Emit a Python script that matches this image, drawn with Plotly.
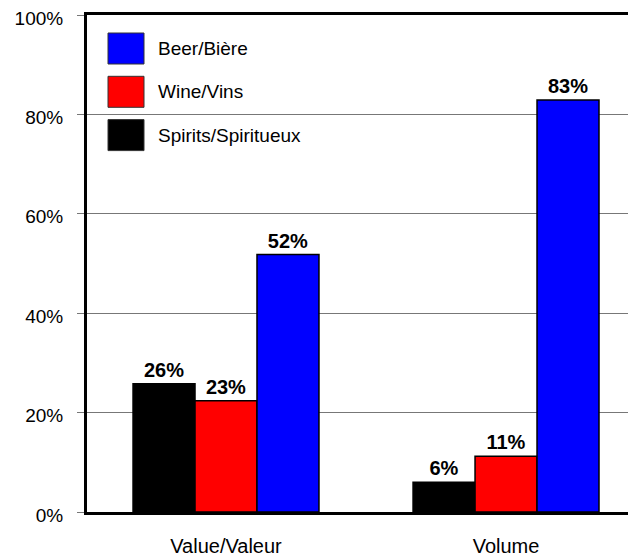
import plotly.graph_objects as go

categories = ["Value/Valeur", "Volume"]
series_names = ["Spirits/Spiritueux", "Wine/Vins", "Beer/Bière"]
series_colors = ["#000000", "#ff0000", "#0000ff"]
spirits = [25.8, 6.0]
wine = [22.4, 11.2]
beer = [51.8, 82.9]
spirits_labels = ["26%", "6%"]
wine_labels = ["23%", "11%"]
beer_labels = ["52%", "83%"]
y_ticks = [0, 20, 40, 60, 80, 100]

values = [spirits, wine, beer]
labels = [spirits_labels, wine_labels, beer_labels]

fig = go.Figure()
for name, color, vals, labs in zip(series_names, series_colors, values, labels):
    fig.add_trace(go.Bar(
        x=categories, y=vals, name=name,
        marker=dict(color=color, line=dict(color="black", width=1.5)),
        text=labs, textposition="outside", cliponaxis=False,
        textfont=dict(family="Liberation Sans, Arial", size=20, color="black", weight="bold"),
        showlegend=False,
    ))

# page body has an 8px margin; figure coordinates are offset accordingly
OFF = 8
PL, PT, PW, PH = 87, 15, 547, 497  # plot area in page pixels

shapes = []
annotations = []
legend_order = list(reversed(range(len(series_names))))
for i, idx in enumerate(legend_order):
    y0 = 33 + i * 43.3
    shapes.append(dict(type="rect", xref="paper", yref="paper",
                       x0=(108 - PL) / PW, x1=(144 - PL) / PW,
                       y0=1 - (y0 + 31 - PT) / PH, y1=1 - (y0 - PT) / PH,
                       fillcolor=series_colors[idx], line=dict(color="#333333", width=1)))
    annotations.append(dict(xref="paper", yref="paper", x=(156 - PL) / PW,
                            y=1 - (y0 + 15.5 - PT) / PH, text=series_names[idx],
                            showarrow=False, xanchor="left", yanchor="middle",
                            font=dict(family="Liberation Sans, Arial", size=19, color="black")))

fig.update_layout(
    width=636 - OFF, height=554 - OFF,
    margin=dict(l=PL - OFF, r=636 - PL - PW, t=PT - OFF, b=554 - PT - PH, autoexpand=False),
    paper_bgcolor="white", plot_bgcolor="white",
    barmode="group", bargap=0.336, bargroupgap=0,
    shapes=shapes, annotations=annotations,
    font=dict(family="Liberation Sans, Arial", size=20, color="black"),
)
fig.update_xaxes(
    range=[-0.4964, 1.457], showline=True, linecolor="black", linewidth=3, mirror=True,
    ticks="", showgrid=False, ticklabelstandoff=14, automargin=False,
    tickfont=dict(size=20, color="black"), ticklabeloverflow="allow",
)
fig.update_yaxes(
    range=[0, 100], tickvals=y_ticks, ticktext=[f"{v}%" for v in y_ticks],
    showline=True, linecolor="black", linewidth=3, mirror=False,
    ticks="outside", ticklen=7, tickcolor="#777777", tickwidth=1,
    showgrid=True, gridcolor="#777777", gridwidth=1, zeroline=False, automargin=False,
    ticklabelstandoff=10, ticklabelshift=3,
    tickfont=dict(size=19, color="black"), ticklabeloverflow="allow",
)
fig.write_html("out.html")
